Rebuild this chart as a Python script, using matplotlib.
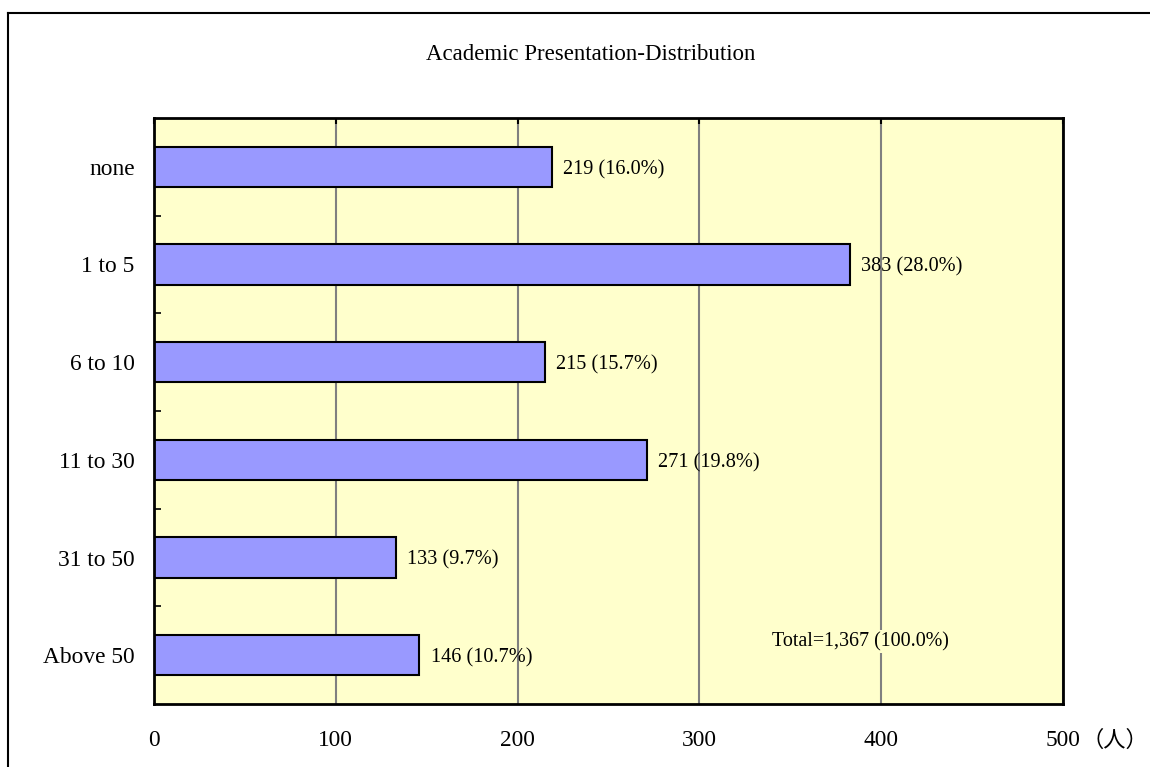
import matplotlib
matplotlib.use("Agg")
import matplotlib.pyplot as plt
from matplotlib.lines import Line2D

# Number of academic presentations per respondent
categories = ["none", "1 to 5", "6 to 10", "11 to 30", "31 to 50", "Above 50"]
counts = [219, 383, 215, 271, 133, 146]
x_ticks = [0, 100, 200, 300, 400, 500]
title = "Academic Presentation-Distribution"
unit = "（人）"

total = sum(counts)
shares = [c / total * 100 for c in counts]

serif = ["Liberation Serif", "Noto Sans CJK JP"]
plt.rcParams["font.family"] = serif

fig = plt.figure(figsize=(11.5, 7.67), dpi=100)
ax = fig.add_axes([154 / 1150, 1 - 704 / 767, 909 / 1150, 586 / 767])

ax.set_facecolor("#FFFFCC")
ypos = list(range(len(categories)))
bars = ax.barh(ypos, counts, height=0.41, color="#9999FF",
               edgecolor="black", linewidth=1.5, zorder=3)

ax.set_xlim(0, 500)
ax.set_ylim(len(categories) - 0.5, -0.5)
ax.set_xticks(x_ticks)
ax.set_xticklabels([str(t) for t in x_ticks], fontsize=16.8)
ax.tick_params(axis="x", which="major", bottom=False, top=True, direction="in",
               length=4, width=1.5, color="black", pad=19)
ax.set_yticks(ypos)
ax.set_yticklabels(categories, fontsize=16.8)
ax.tick_params(axis="y", which="major", length=0, pad=14)
ax.set_yticks([i + 0.5 for i in ypos[:-1]], minor=True)
ax.tick_params(axis="y", which="minor", direction="in", length=5,
               width=1.2, color="black")

ax.grid(axis="x", color="#808080", linewidth=1.5, zorder=1)
for s in ax.spines.values():
    s.set_linewidth(2)
    s.set_color("black")
    s.set_zorder(5)

# value and share next to each bar
for b, c, p in zip(bars, counts, shares):
    ax.annotate(f"{c} ({p:.1f}%)", xy=(b.get_width(), b.get_y() + b.get_height() / 2),
                xytext=(8, -2), textcoords="offset points", va="center", ha="left",
                fontsize=14.6, zorder=6)

ax.text(340, 4.86, f"Total={total:,} (100.0%)", fontsize=14.4, va="center",
        ha="left", zorder=6,
        bbox=dict(facecolor="#FFFFCC", edgecolor="none", pad=1))

# unit after the last x tick label
ax.annotate(unit, xy=(500, 0), xycoords=("data", "axes fraction"),
            xytext=(13, -19), textcoords="offset points", ha="left", va="top",
            fontsize=16)

fig.text(591 / 1150, 1 - 55 / 767, title, ha="center", va="center", fontsize=16.5)

# chart frame
fig.add_artist(Line2D([8 / 1150, 8 / 1150], [0, 1 - 13 / 767],
                      transform=fig.transFigure, color="black", linewidth=1.5))
fig.add_artist(Line2D([8 / 1150, 1], [1 - 13 / 767, 1 - 13 / 767],
                      transform=fig.transFigure, color="black", linewidth=1.5))

fig.savefig("out.png", dpi=100, facecolor="white")
